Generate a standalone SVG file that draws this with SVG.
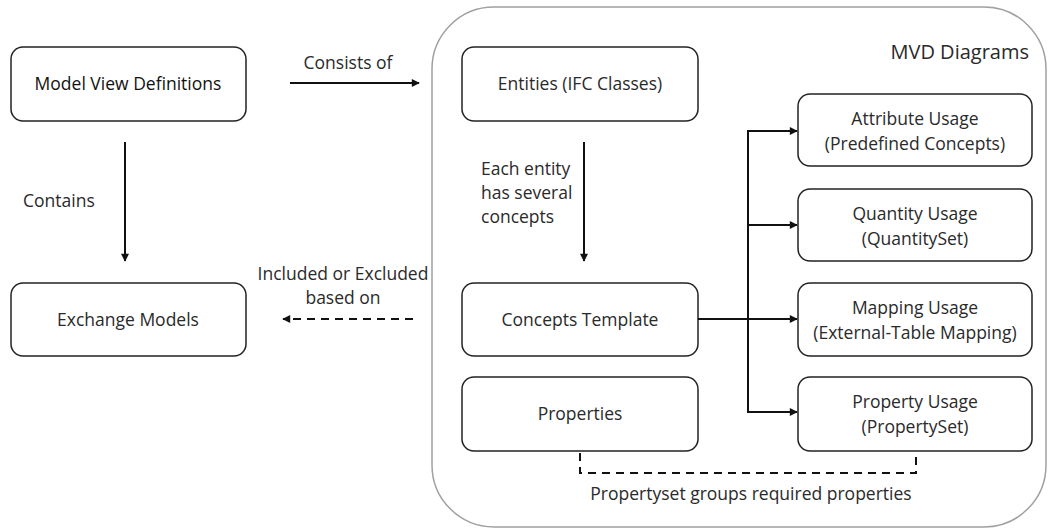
<svg xmlns="http://www.w3.org/2000/svg" width="1052" height="531" viewBox="0 0 1052 531">
  <style>
    .box { fill: #ffffff; stroke: #222; stroke-width: 1.5; }
    .frame { fill: #ffffff; stroke: #a0a0a0; stroke-width: 1.5; }
    .lbl { font-family: "Open Sans", "Noto Sans", sans-serif; font-size: 17.5px; fill: #2a2a2a; text-anchor: middle; }
    .note { font-family: "Open Sans", "Noto Sans", sans-serif; font-size: 17.5px; fill: #2a2a2a; }
    .line { fill: none; stroke: #111; stroke-width: 2; }
    .dash { fill: none; stroke: #111; stroke-width: 2; stroke-dasharray: 8 6; }
  </style>
  <defs>
    <marker id="arrow" viewBox="0 0 10 10" refX="9" refY="5" markerWidth="4.5" markerHeight="4" orient="auto" markerUnits="strokeWidth">
      <path d="M0,0 L10,5 L0,10 z" fill="#111"/>
    </marker>
  </defs>

  <rect width="1052" height="531" fill="#ffffff"/>

  <!-- container for the MVD diagram parts -->
  <g id="mvd-diagrams">
    <rect class="frame" x="432" y="7" width="614" height="520" rx="62" ry="62"/>
    <text class="note" x="1029" y="59" text-anchor="end" style="font-size:20px">MVD Diagrams</text>
  </g>

  <g id="model-view-definitions">
    <rect class="box" x="11" y="47" width="235" height="74" rx="12"/>
    <text class="lbl" x="128" y="90" style="fill:#111">Model View Definitions</text>
  </g>
  <g id="exchange-models">
    <rect class="box" x="11" y="283" width="235" height="73" rx="12"/>
    <text class="lbl" x="128" y="326">Exchange Models</text>
  </g>
  <g id="entities">
    <rect class="box" x="462" y="47" width="236" height="74" rx="12"/>
    <text class="lbl" x="580" y="90">Entities (IFC Classes)</text>
  </g>
  <g id="concepts-template">
    <rect class="box" x="462" y="283" width="236" height="73" rx="12"/>
    <text class="lbl" x="580" y="326">Concepts Template</text>
  </g>
  <g id="properties">
    <rect class="box" x="462" y="377" width="236" height="74" rx="12"/>
    <text class="lbl" x="580" y="420">Properties</text>
  </g>
  <g id="attribute-usage">
    <rect class="box" x="798" y="94" width="234" height="72" rx="12"/>
    <text class="lbl" x="915" y="125">Attribute Usage</text>
    <text class="lbl" x="915" y="150">(Predefined Concepts)</text>
  </g>
  <g id="quantity-usage">
    <rect class="box" x="798" y="189" width="234" height="72" rx="12"/>
    <text class="lbl" x="915" y="220">Quantity Usage</text>
    <text class="lbl" x="915" y="245">(QuantitySet)</text>
  </g>
  <g id="mapping-usage">
    <rect class="box" x="798" y="283" width="234" height="73" rx="12"/>
    <text class="lbl" x="915" y="314">Mapping Usage</text>
    <text class="lbl" x="915" y="339">(External-Table Mapping)</text>
  </g>
  <g id="property-usage">
    <rect class="box" x="798" y="377" width="234" height="74" rx="12"/>
    <text class="lbl" x="915" y="408">Property Usage</text>
    <text class="lbl" x="915" y="433">(PropertySet)</text>
  </g>

  <g id="connectors">
    <!-- Model View Definitions -> MVD diagrams -->
    <line class="line" x1="290" y1="83" x2="419" y2="83" marker-end="url(#arrow)"/>
    <text class="lbl" x="348" y="69">Consists of</text>

    <!-- Model View Definitions -> Exchange Models -->
    <line class="line" x1="125" y1="142" x2="125" y2="261" marker-end="url(#arrow)"/>
    <text class="note" x="23" y="207">Contains</text>

    <!-- MVD diagrams -> Exchange Models (dashed) -->
    <line class="dash" x1="413" y1="319" x2="283" y2="319" marker-end="url(#arrow)"/>
    <text class="lbl" x="343" y="280">Included or Excluded</text>
    <text class="lbl" x="343" y="304">based on</text>

    <!-- Entities -> Concepts Template -->
    <line class="line" x1="584" y1="142" x2="584" y2="261" marker-end="url(#arrow)"/>
    <text class="note" x="481" y="175">Each entity</text>
    <text class="note" x="481" y="199">has several</text>
    <text class="note" x="481" y="223">concepts</text>

    <!-- Concepts Template -> usage boxes -->
    <line class="line" x1="698" y1="319" x2="797" y2="319" marker-end="url(#arrow)"/>
    <line class="line" x1="748" y1="130" x2="748" y2="413"/>
    <line class="line" x1="747" y1="131" x2="797" y2="131" marker-end="url(#arrow)"/>
    <line class="line" x1="747" y1="225" x2="797" y2="225" marker-end="url(#arrow)"/>
    <line class="line" x1="747" y1="412" x2="797" y2="412" marker-end="url(#arrow)"/>

    <!-- Properties <-> Property Usage (dashed bracket) -->
    <polyline class="dash" points="580,453 580,473 916,473 916,453"/>
    <text class="lbl" x="751" y="500">Propertyset groups required properties</text>
  </g>
</svg>
